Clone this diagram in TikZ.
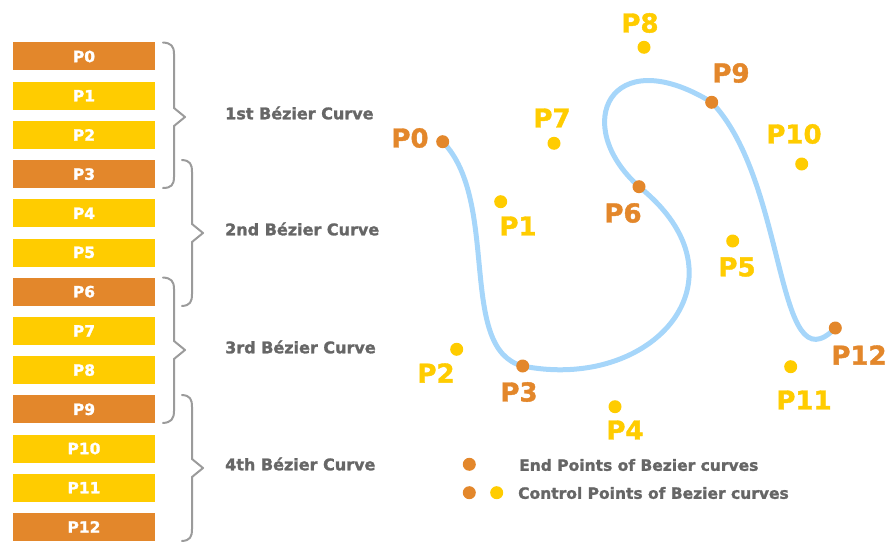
\documentclass[tikz,border=0pt]{standalone}
\usepackage{fontspec}
\setmainfont{DejaVu Sans}[BoldFeatures={FakeBold=1.5}]
\definecolor{endorange}{RGB}{227,135,43}
\definecolor{ctrlyellow}{RGB}{255,204,0}
\definecolor{curveblue}{RGB}{166,214,250}
\definecolor{labelgray}{RGB}{102,102,102}
\definecolor{bracegray}{RGB}{155,155,155}
\tikzset{
  x=1pt, y=-1pt,
  pbox/.style={minimum width=142pt, minimum height=28pt, inner sep=0pt,
    text=white, font=\fontsize{15.5}{15.5}\selectfont\bfseries},
  endbox/.style={pbox, fill=endorange},
  ctrlbox/.style={pbox, fill=ctrlyellow},
  brace/.style={draw=bracegray, line width=2pt, line join=round, line cap=round},
  curvelabel/.style={anchor=west, text=labelgray, inner sep=0pt,
    font=\fontsize{16}{16}\selectfont\bfseries},
  dot/.style={circle, inner sep=0pt, minimum size=13pt},
  enddot/.style={dot, fill=endorange},
  ctrldot/.style={dot, fill=ctrlyellow},
  ptlabel/.style={inner sep=0pt, font=\fontsize{26}{26}\selectfont\bfseries},
  endlabel/.style={ptlabel, text=endorange},
  ctrllabel/.style={ptlabel, text=ctrlyellow},
  bezier/.style={draw=curveblue, line width=5pt, line cap=round},
  legend/.style={anchor=west, text=labelgray, inner sep=0pt,
    font=\fontsize{15.5}{15.5}\selectfont\bfseries}
}
\begin{document}
\begin{tikzpicture}
\useasboundingbox (0,0) rectangle (887,543);

% ---- list of points ----
\foreach \i/\kind in {0/endbox,1/ctrlbox,2/ctrlbox,3/endbox,4/ctrlbox,5/ctrlbox,
  6/endbox,7/ctrlbox,8/ctrlbox,9/endbox,10/ctrlbox,11/ctrlbox,12/endbox}
  \node[\kind] (b\i) at (84,{56.5+39.2*\i}) {P\i};

% ---- braces grouping the points ----
\draw[brace] (163,42.5) .. controls (171,43) and (174,46) .. (174,54) -- (174,108)
  -- (185,117) -- (174,126) -- (174,177) .. controls (174,185) and (171,188) .. (163,188);
\draw[brace] (182,160) .. controls (190,160.5) and (192,164) .. (192,172) -- (192,224)
  -- (203,233) -- (192,242) -- (192,294) .. controls (192,302) and (190,305.5) .. (182,306);
\draw[brace] (163,277.5) .. controls (171,278) and (174,281) .. (174,289) -- (174,341)
  -- (185,350) -- (174,359) -- (174,411) .. controls (174,419) and (171,422.5) .. (163,423);
\draw[brace] (182,395) .. controls (190,395.5) and (192,399) .. (192,407) -- (192,459)
  -- (203,468) -- (192,477) -- (192,529) .. controls (192,537) and (190,540.5) .. (182,541);

\node[curvelabel] (c1) at (225,113) {1st Bézier Curve};
\node[curvelabel] (c2) at (225,229) {2nd Bézier Curve};
\node[curvelabel] (c3) at (225,347) {3rd Bézier Curve};
\node[curvelabel] (c4) at (225,464) {4th Bézier Curve};

% ---- the composite curve ----
\coordinate (h3) at (652.7,392);
\coordinate (h5) at (754,278.7);
\coordinate (h7) at (570,125);
\coordinate (h8) at (610,40);
\coordinate (h10) at (788,182);
\coordinate (h11) at (775,390);
\coordinate (q0) at (442.7,141.7);
\coordinate (q1) at (500.7,201.7);
\coordinate (q2) at (456.7,349.3);
\coordinate (q3) at (522.7,366);
\coordinate (q6) at (639,186.7);
\coordinate (q9) at (711.7,102.3);
\coordinate (q12) at (835.3,328);
\draw[bezier] (q0) .. controls (q1) and (q2) .. (q3)
  .. controls (h3) and (h5) .. (q6)
  .. controls (h7) and (h8) .. (q9)
  .. controls (h10) and (h11) .. (q12);

% ---- points ----
\node[enddot]  (d0)  at (q0) {};
\node[ctrldot] (d1)  at (q1) {};
\node[ctrldot] (d2)  at (q2) {};
\node[enddot]  (d3)  at (q3) {};
\node[ctrldot] (d4)  at (615,406.7) {};
\node[ctrldot] (d5)  at (732.7,241) {};
\node[enddot]  (d6)  at (q6) {};
\node[ctrldot] (d7)  at (554,143.3) {};
\node[ctrldot] (d8)  at (644,47.3) {};
\node[enddot]  (d9)  at (q9) {};
\node[ctrldot] (d10) at (801.7,164) {};
\node[ctrldot] (d11) at (790.7,366.7) {};
\node[enddot]  (d12) at (q12) {};

\node[endlabel]  (l0)  at (410,138) {P0};
\node[ctrllabel] (l1)  at (518,226) {P1};
\node[ctrllabel] (l2)  at (436,373) {P2};
\node[endlabel]  (l3)  at (519,392) {P3};
\node[ctrllabel] (l4)  at (625,430) {P4};
\node[ctrllabel] (l5)  at (737,267) {P5};
\node[endlabel]  (l6)  at (623,213) {P6};
\node[ctrllabel] (l7)  at (552,118) {P7};
\node[ctrllabel] (l8)  at (640,23) {P8};
\node[endlabel]  (l9)  at (731,73) {P9};
\node[ctrllabel] (l10) at (794,134) {P10};
\node[ctrllabel] (l11) at (804,400) {P11};
\node[endlabel]  (l12) at (859,355) {P12};

% ---- legend ----
\node[enddot]  (k1) at (469.3,464.3) {};
\node[legend]  (t1) at (519,465) {End Points of Bezier curves};
\node[enddot]  (k2) at (469.3,492.7) {};
\node[ctrldot] (k3) at (496.7,492.7) {};
\node[legend]  (t2) at (518,493) {Control Points of Bezier curves};
\end{tikzpicture}
\end{document}
